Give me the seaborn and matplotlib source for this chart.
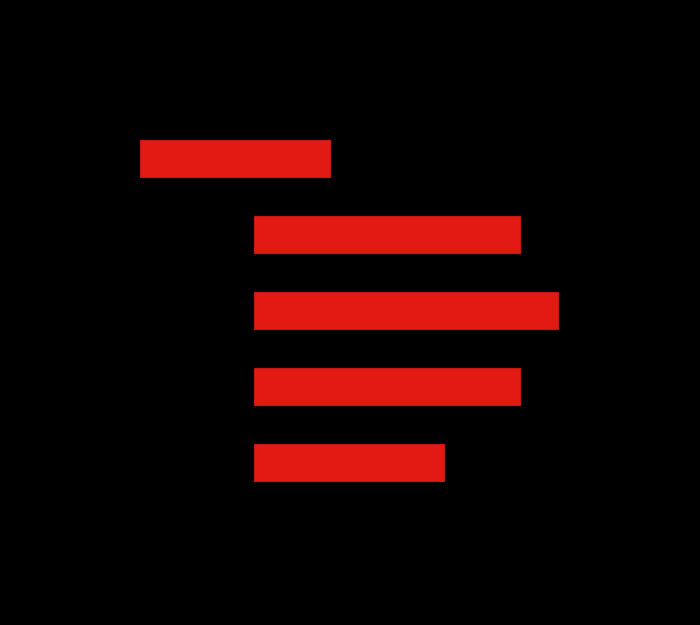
import matplotlib
matplotlib.use("Agg")
import matplotlib.pyplot as plt
import seaborn as sns

# dark theme, no grid, no text
sns.set_style("dark", {"axes.facecolor": "black", "figure.facecolor": "black"})

# gantt-like data: start and end of each task
tasks = ["Task 1", "Task 2", "Task 3", "Task 4", "Task 5"]
starts = [0, 3, 3, 3, 3]
ends = [5, 10, 11, 10, 8]
durations = [e - s for s, e in zip(starts, ends)]

fig = plt.figure(figsize=(7, 6.25), dpi=100)
ax = fig.add_axes([0, 0, 1, 1])

ax.barh(range(len(tasks)), durations, left=starts, height=0.49,
        color="#e31a14", edgecolor="#c41812", linewidth=0.8)

ax.set_xlim(-3.684, 14.737)
ax.set_ylim(6.138, -2.086)
ax.set_axis_off()

fig.savefig("out.png", dpi=100, facecolor="black")
